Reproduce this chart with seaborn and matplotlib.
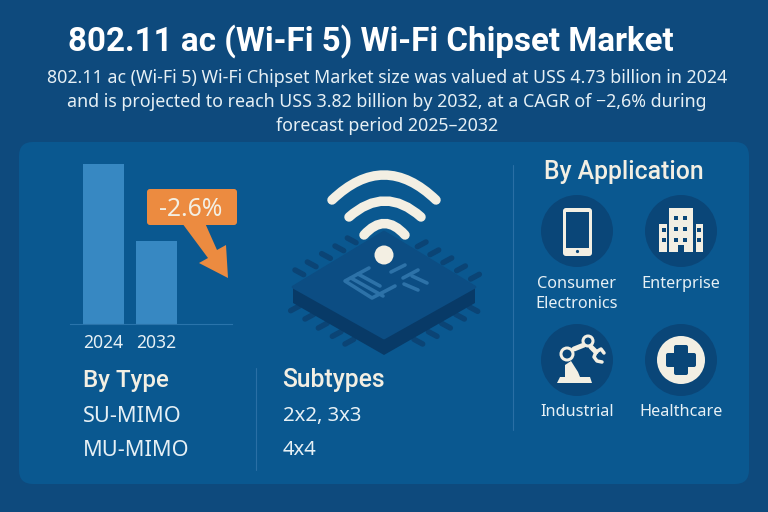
import matplotlib
matplotlib.use("Agg")
import matplotlib.pyplot as plt
from matplotlib.patches import FancyBboxPatch, Circle, Polygon, Rectangle, PathPatch
from matplotlib.path import Path
import pandas as pd
import seaborn as sns

years = ["2024", "2032"]
bar_values = [4.73, 2.45]
title = "802.11 ac (Wi-Fi 5) Wi-Fi Chipset Market"
subtitle_lines = [
    "802.11 ac (Wi-Fi 5) Wi-Fi Chipset Market size was valued at USS 4.73 billion in 2024",
    "and is projected to reach USS 3.82 billion by 2032, at a CAGR of −2,6% during",
    "forecast period 2025–2032",
]
cagr_label = "-2.6%"
type_header = "By Type"
type_items = ["SU-MIMO", "MU-MIMO"]
subtype_header = "Subtypes"
subtype_items = ["2x2, 3x3", "4x4"]
app_header = "By Application"
app_labels = ["Consumer\nElectronics", "Enterprise", "Industrial", "Healthcare"]

BG = "#0e4a7d"
PANEL = "#0a5890"
DARK = "#0a4678"
CREAM = "#f3efe3"
TXT = "#e6f0f5"
BAR = "#3788c2"
ORANGE = "#ec8b40"

sns.set_theme(style="white")
plt.rcParams["font.family"] = ["Noto Sans", "DejaVu Sans"]
PX = 0.72

fig = plt.figure(figsize=(7.68, 5.12), dpi=100, facecolor=BG)
ov = fig.add_axes([0, 0, 1, 1])
ov.set_xlim(0, 768)
ov.set_ylim(512, 0)
ov.axis("off")

ov.add_patch(FancyBboxPatch((33, 156), 702, 314, boxstyle="round,pad=14,rounding_size=14",
                            fc=PANEL, ec="none"))

ov.text(371, 41, title, ha="center", va="center", color="white", fontsize=23.9, fontfamily="Roboto", fontweight="bold")
for y, line in zip([78, 102, 126], subtitle_lines):
    ov.text(387, y, line, ha="center", va="center", color=TXT, fontsize=12.8)

# bar chart
ax = fig.add_axes([70 / 768, 1 - 324 / 512, 162 / 768, 160 / 512])
ax.patch.set_alpha(0)
df = pd.DataFrame({"year": years, "value": bar_values})
sns.barplot(data=df, x="year", y="value", color=BAR, saturation=1, width=0.774, ax=ax,
            edgecolor="none", linewidth=0)
ax.set_xlim(-0.632, 2.425)
ax.set_ylim(0, max(bar_values))
ax.set_xlabel("")
ax.set_ylabel("")
ax.set_yticks([])
sns.despine(ax=ax, left=True)
ax.spines["bottom"].set_color("#2a74ab")
ax.spines["bottom"].set_linewidth(0.8)
ax.tick_params(axis="x", length=0, pad=7, labelcolor=TXT, labelsize=12.6)

# orange callout
ov.add_patch(Polygon([(182, 223), (205, 223), (217, 250), (226, 245), (228, 278), (199, 263), (208, 258)],
                     closed=True, fc=ORANGE, ec="none", zorder=3))
ov.add_patch(FancyBboxPatch((149, 191), 86, 32, boxstyle="round,pad=2,rounding_size=3",
                            fc=ORANGE, ec="none", zorder=3))
ov.text(191, 209, cagr_label, ha="center", va="center", color=CREAM, fontsize=17.8, zorder=4)

# chip
def zp(x, y):
    return x / 3 + 280, y / 3 + 165

PIN2 = "#0b4475"
for cx, cy, dx, dy in (
    [(x, y, 13, 7) for x, y in [(58, 322), (95, 298), (138, 273), (178, 250), (215, 226)]]
    + [(x, y, 13, -7) for x, y in [(425, 238), (463, 262), (502, 286), (543, 310), (585, 335)]]
    + [(x, y, 13, -7) for x, y in [(45, 430), (88, 455), (128, 482), (170, 507), (208, 530)]]
    + [(x, y, 13, 7) for x, y in [(415, 530), (458, 507), (498, 482), (540, 455), (580, 432)]]
):
    px, py = zp(cx, cy)
    ov.plot([px - dx / 3, px + dx / 3], [py - dy / 3, py + dy / 3],
            color=PIN2, lw=5.5 * PX, solid_capstyle="round", zorder=2)

ov.add_patch(Polygon([(293, 287), (384, 338), (475, 287), (475, 303), (384, 355), (293, 303)],
                     closed=True, fc="#083a67", ec="none", zorder=3))
ov.add_patch(Polygon([(293, 287), (384, 232), (475, 287), (384, 338)],
                     closed=True, fc="#0c4d83", ec="#0c4d83", lw=2, joinstyle="round", zorder=4))
GLY = "#2d72a8"
for seg in [
    [(369, 268), (345, 281), (372, 298), (395, 286)],
    [(358, 274), (380, 286)], [(351, 278), (383, 296)],
    [(391, 272), (405, 265)], [(403, 278), (418, 270)],
    [(404, 284), (418, 290)], [(412, 276), (427, 283)],
]:
    ov.plot(*zip(*seg), color=GLY, lw=3.6 * PX, solid_capstyle="round", zorder=5)

for (x0, x1, yb, yt, w) in [(332, 436, 200, 150, 9.5), (349, 421, 217, 185, 9.5), (364, 405, 235, 212, 9.5)]:
    xm = (x0 + x1) / 2
    ov.add_patch(PathPatch(Path([(x0, yb), (xm, yt), (x1, yb)], [Path.MOVETO, Path.CURVE3, Path.CURVE3]),
                           fc="none", ec=CREAM, lw=w * PX, capstyle="round", zorder=6))
ov.add_patch(Circle((384, 255), 9.5, fc=CREAM, ec="none", zorder=6))

# lower-left lists
HEAD = dict(va="center", color=CREAM, fontfamily="Roboto", fontweight="medium")
ov.text(83, 380, type_header, fontsize=17.4, **HEAD)
ov.text(282, 380, subtype_header, fontsize=17.8, **HEAD)
for y, a, b in zip([416, 450], type_items, subtype_items):
    ov.text(83, y, a, va="center", color=TXT, fontsize=15.6)
    ov.text(283, y, b, va="center", color=TXT, fontsize=14.6)

ov.plot([256, 256], [368, 470], color="#2a6fa5", lw=0.8)
ov.plot([513, 513], [165, 430], color="#2a6fa5", lw=0.8)

# applications
ov.text(623.5, 172, app_header, ha="center", fontsize=17.8, **HEAD)
centers = [(577, 231), (681, 231), (577, 360), (681, 360)]
for (cx, cy), lab, ly in zip(centers, app_labels, [294, 284, 412, 412]):
    ov.add_patch(Circle((cx, cy), 36, fc=DARK, ec="none"))
    ov.text(cx, ly, lab, ha="center", va="center", color=TXT, fontsize=11.7, linespacing=1.27)

# phone
ov.add_patch(FancyBboxPatch((565, 210), 25, 44, boxstyle="round,pad=2,rounding_size=3", fc=CREAM, ec="none", zorder=3))
ov.add_patch(Rectangle((566, 212), 23, 36, fc=DARK, ec="none", zorder=4))
ov.add_patch(Circle((577.5, 251.5), 1.6, fc=DARK, ec="none", zorder=4))

# building
for x, y, w, h in [(669, 208, 24, 44), (659, 224, 8, 28), (696, 224, 7, 28)]:
    ov.add_patch(Rectangle((x, y), w, h, fc=CREAM, ec="none", zorder=3))
for wx in (676, 685):
    ov.add_patch(Rectangle((wx - 2, 218 - 2), 4, 4, fc=DARK, ec="none", zorder=4))
for wx in (676, 685):
    for wy in (229, 240):
        ov.add_patch(Rectangle((wx - 2, wy - 2), 4, 4, fc=DARK, ec="none", zorder=4))
for wx in (663.5, 699):
    for wy in (230, 240):
        ov.add_patch(Rectangle((wx - 2, wy - 2), 4, 4, fc=DARK, ec="none", zorder=4))
ov.add_patch(Rectangle((678, 245), 6, 7, fc=DARK, ec="none", zorder=4))

# robot arm
ov.add_patch(Polygon([(557, 383), (560, 377), (590, 377), (592, 383)], fc=CREAM, ec="none", zorder=3))
ov.add_patch(Polygon([(565, 377), (565, 365), (571, 361), (578, 372), (580, 377)], fc=CREAM, ec="none", zorder=3))
ov.plot([574, 584], [349, 345], color=CREAM, lw=5 * PX, zorder=3)
ov.plot([591, 596], [347, 352], color=CREAM, lw=5 * PX, zorder=3)
for x, y, r in [(567, 354, 6), (588, 341, 5)]:
    ov.add_patch(Circle((x, y), r, fc=DARK, ec=CREAM, lw=3 * PX, zorder=4))
theta = [(604, 353), (601, 349), (596, 352), (594, 357), (597, 361), (602, 362)]
ov.plot(*zip(*theta), color=CREAM, lw=3.5 * PX, zorder=4)

# healthcare
ov.add_patch(Circle((681, 360), 24, fc=CREAM, ec="none", zorder=3))
ov.add_patch(FancyBboxPatch((674, 345), 14, 30, boxstyle="round,pad=0,rounding_size=2", fc=DARK, ec="none", zorder=4))
ov.add_patch(FancyBboxPatch((666, 353), 30, 14, boxstyle="round,pad=0,rounding_size=2", fc=DARK, ec="none", zorder=4))

fig.savefig("out.png", dpi=100, facecolor=fig.get_facecolor())
